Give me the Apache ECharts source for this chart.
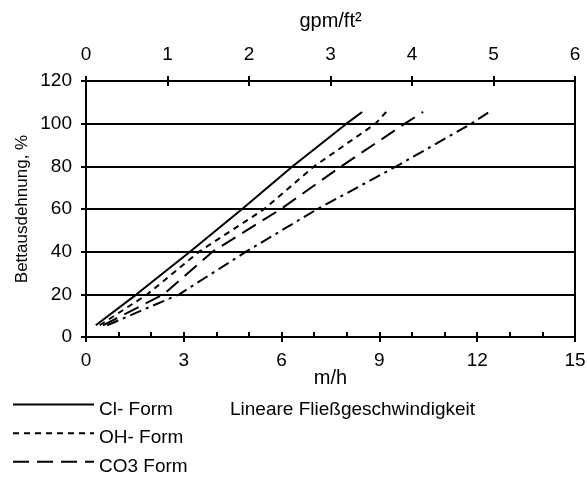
<!DOCTYPE html>
<html>
<head>
<meta charset="utf-8">
<script src="https://cdn.jsdelivr.net/npm/echarts@6/dist/echarts.min.js"></script>
<style>html,body{margin:0;padding:0;background:#fff}#c{width:587px;height:480px}</style>
</head>
<body>
<div id="c"></div>
<script>
// Data (x = m/h, y = Bettausdehnung %)
const seriesNames = ['Cl- Form', 'OH- Form', 'CO3 Form', 'Serie 4'];
const clForm  = [[0.30, 5.5], [1.55, 20], [3.19, 40], [4.79, 60], [6.34, 80], [7.99, 100], [8.47, 105.5]];
const ohForm  = [[0.42, 5.5], [1.88, 20], [3.47, 40], [5.47, 60], [7.00, 80], [8.88, 100], [9.21, 105.5]];
const co3Form = [[0.52, 5.5], [2.38, 20], [3.88, 40], [5.98, 60], [7.83, 80], [9.78, 100], [10.34, 105.5]];
const serie4  = [[0.65, 5.5], [2.86, 20], [4.91, 40], [7.10, 60], [9.52, 80], [11.82, 100], [12.37, 105.5]];
const bottomTicks = [0, 3, 6, 9, 12, 15];
const topTicks = [0, 1, 2, 3, 4, 5, 6];
const yTicks = [0, 20, 40, 60, 80, 100, 120];

const FONT = 'Liberation Sans';
const FS = 19;
const chart = echarts.init(document.getElementById('c'));
const black = '#000';
const lineStyles = [
  { type: 'solid' },
  { type: [6, 5] },
  { type: [16, 8] },
  { type: [12, 5, 3, 5] }
];
const allData = [clForm, ohForm, co3Form, serie4];

chart.setOption({
  animation: false,
  textStyle: { fontFamily: FONT, color: black },
  grid: { left: 86, right: 12, top: 81, bottom: 143, show: true, borderColor: black, borderWidth: 2,
          containLabel: false, outerBoundsMode: 'none' },
  legend: {
    data: seriesNames.slice(0, 3),
    orient: 'vertical', left: 12, top: 399, height: 300, padding: 0,
    itemWidth: 81, itemHeight: 14, itemGap: 8.5,
    itemStyle: { opacity: 0 },
    formatter: name => '{a|' + name + '}',
    textStyle: {
      fontFamily: FONT, fontSize: FS, color: black,
      rich: { a: { fontFamily: FONT, fontSize: FS, color: black, padding: [10, 0, 0, 0] } }
    }
  },
  graphic: [{
    type: 'text', left: 230, top: 400,
    style: { text: 'Lineare Fließgeschwindigkeit', font: FS + 'px "Liberation Sans"', fill: black }
  }],
  xAxis: [
    {
      type: 'value', position: 'bottom', min: bottomTicks[0], max: bottomTicks[bottomTicks.length - 1], interval: 3,
      name: 'm/h', nameLocation: 'middle', nameGap: 31, nameMoveOverlap: false,
      nameTextStyle: { fontFamily: FONT, fontSize: 20, color: black },
      axisLine: { show: true, lineStyle: { color: black, width: 2 } },
      axisTick: { show: true, length: 5, lineStyle: { color: black, width: 2 } },
      axisLabel: { margin: 14, fontSize: FS, color: black, fontFamily: FONT },
      splitLine: { show: false }
    },
    {
      type: 'value', position: 'top', min: topTicks[0], max: topTicks[topTicks.length - 1], interval: 1,
      name: 'gpm/ft²', nameLocation: 'middle', nameGap: 50, nameMoveOverlap: false,
      nameTextStyle: { fontFamily: FONT, fontSize: 20, color: black },
      axisLine: { show: true, lineStyle: { color: black, width: 2 } },
      axisTick: { show: true, length: 5, lineStyle: { color: black, width: 2 } },
      axisLabel: { margin: 17, fontSize: FS, color: black, fontFamily: FONT },
      splitLine: { show: false }
    },
    {
      type: 'value', position: 'bottom', min: 0, max: 15, interval: 1,
      axisLine: { show: false },
      axisTick: { show: true, inside: true, length: 5, lineStyle: { color: black, width: 2 } },
      axisLabel: { show: false }, splitLine: { show: false }
    },
    {
      type: 'value', position: 'top', min: 0, max: 6, interval: 1,
      axisLine: { show: false },
      axisTick: { show: true, inside: true, length: 5, lineStyle: { color: black, width: 2 } },
      axisLabel: { show: false }, splitLine: { show: false }
    }
  ],
  yAxis: {
    type: 'value', min: yTicks[0], max: yTicks[yTicks.length - 1], interval: 20,
    name: 'Bettausdehnung, %', nameLocation: 'middle', nameGap: 55, nameMoveOverlap: false,
    nameTextStyle: { fontFamily: FONT, fontSize: 17, color: black },
    axisLine: { show: true, lineStyle: { color: black, width: 2 } },
    axisTick: { show: true, length: 5, lineStyle: { color: black, width: 2 } },
    axisLabel: { margin: 14, fontSize: FS, color: black, fontFamily: FONT },
    splitLine: { show: true, lineStyle: { color: black, width: 2 } }
  },
  series: seriesNames.map((n, i) => ({
    name: n, type: 'line', xAxisIndex: 0, data: allData[i],
    symbol: 'none', showSymbol: false,
    lineStyle: Object.assign({ color: black, width: 2 }, lineStyles[i]),
    itemStyle: { color: black }
  }))
});
</script>
</body>
</html>
